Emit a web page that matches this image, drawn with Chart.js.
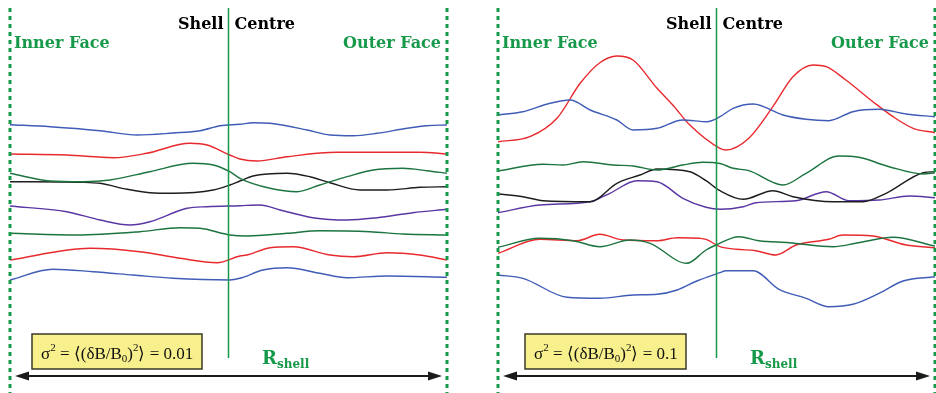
<!DOCTYPE html>
<html>
<head>
<meta charset="utf-8">
<script src="https://cdn.jsdelivr.net/npm/chart.js@4.4.1/dist/chart.umd.min.js"></script>
<style>
  body { margin: 0; background: #fff; }
  #wrap { position: relative; width: 936px; height: 393px; }
  #wrap canvas { position: absolute; top: 0; }
</style>
</head>
<body>
<div id="wrap">
  <canvas id="leftPanel" width="468" height="393" style="left:0"></canvas>
  <canvas id="rightPanel" width="468" height="393" style="left:468px"></canvas>
</div>
<script>
// Field lines across the shell, x = fraction of R_shell (0 inner face, 1 outer face),
// y = transverse position (top = 0)

// sigma^2 = 0.01
const weakBlueTop = [[0,124.7],[.092,126.7],[.206,130.7],[.291,135],[.373,133],[.435,130.7],[.481,125.7],[.526,124.3],[.556,122.7],[.595,123.3],[.68,130],[.732,135],[.785,135.7],[.84,133.3],[.908,128.3],[.954,125.7],[1,125]];
const weakRedTop = [[0,154],[.13,155],[.236,157.7],[.313,153.3],[.412,143.3],[.451,145],[.503,155],[.526,159],[.565,161],[.634,156.7],[.748,152.3],[.863,152.3],[.938,152.3],[1,154]];
const weakGreenTop = [[0,173.3],[.092,181],[.167,181.7],[.229,180],[.32,171.7],[.419,163.3],[.465,165],[.503,171.7],[.526,178.3],[.595,188.3],[.657,191.7],[.709,185],[.771,176.7],[.831,170],[.899,168.3],[.954,170.7],[1,173.3]];
const weakBlack = [[0,181.7],[.167,182.3],[.206,183.3],[.268,189.3],[.32,192.7],[.373,193.3],[.465,190],[.503,185],[.526,181],[.556,176],[.634,173.3],[.686,176.7],[.732,182.7],[.801,190],[.863,190],[.938,187.3],[1,186.7]];
const weakPurple = [[0,206],[.13,211.7],[.206,220],[.275,225],[.32,221.7],[.405,208.3],[.451,206.7],[.526,205.7],[.572,205],[.618,210],[.693,217.7],[.771,220],[.84,217.7],[.922,212.7],[1,209.3]];
const weakGreenLow = [[0,233.3],[.153,235],[.297,231.7],[.389,227.7],[.435,228.3],[.503,235],[.542,236],[.634,233.3],[.709,230.7],[.824,231.7],[.899,234],[1,235]];
const weakRedLow = [[0,260],[.183,248.3],[.297,251.7],[.389,258.3],[.474,262.7],[.526,256],[.542,255],[.595,247.7],[.648,246.7],[.732,255],[.785,256.7],[.863,252.7],[.938,255],[1,260]];
const weakBlueLow = [[0,280],[.098,269.3],[.19,271.7],[.281,275],[.373,278.3],[.503,280],[.526,278.3],[.579,270],[.634,267.7],[.709,273.3],[.771,277.7],[.863,276],[1,277.3]];

// sigma^2 = 0.1
const strongRedTop = [[0,141.7],[.073,136.7],[.135,118.3],[.188,83.3],[.233,62.7],[.272,56],[.309,60],[.364,88.3],[.40,105],[.439,125],[.508,148.3],[.522,150],[.574,138.3],[.629,106.7],[.675,76.7],[.721,65],[.751,66.7],[.796,80],[.858,101.7],[.904,116.7],[.95,128.3],[1,132.7]];
const strongBlueTop = [[0,115],[.057,111.7],[.119,103.3],[.165,100],[.211,110],[.272,120],[.309,130],[.364,128.3],[.423,120],[.478,121.7],[.508,116.7],[.538,108.3],[.584,104],[.652,115],[.705,119.3],[.757,120.7],[.812,111.7],[.872,109.3],[.934,114],[1,116.7]];
const strongGreenTop = [[0,171],[.103,164.3],[.149,165],[.195,161.7],[.263,165],[.309,166],[.364,170],[.423,165],[.469,162.3],[.508,163.5],[.538,168.3],[.574,170.7],[.652,185],[.705,173.3],[.78,156],[.826,157.3],[.895,166.7],[.973,174],[1,172.7]];
const strongBlack = [[0,194],[.057,196.7],[.103,200.7],[.211,201.7],[.272,183.3],[.325,175],[.364,169],[.439,171.7],[.476,180.7],[.508,190.7],[.561,199.3],[.629,190.7],[.675,196.7],[.767,201.7],[.835,201.7],[.888,193.3],[.973,172.7],[1,171.7]];
const strongPurple = [[0,212.7],[.096,205],[.211,201.7],[.256,193.3],[.318,180.7],[.364,181.7],[.423,198.3],[.476,207.3],[.508,209.3],[.561,206.7],[.59,202.7],[.682,200.7],[.751,191.7],[.803,200.7],[.872,200],[.941,196],[1,197.7]];
const strongGreenLow = [[0,247.3],[.096,238.3],[.172,240.7],[.233,246.7],[.302,240],[.348,243.3],[.432,263.3],[.476,250],[.499,245],[.551,236.7],[.597,240.7],[.666,242.7],[.767,246.7],[.819,243.3],[.904,237.3],[1,246]];
const strongRedLow = [[0,253.3],[.096,239.3],[.181,240.7],[.233,234.3],[.286,240],[.364,240.7],[.41,237.7],[.462,238.3],[.476,239.3],[.508,246.7],[.545,249.3],[.59,250.7],[.636,255],[.682,245],[.757,239.3],[.789,235],[.858,236],[.934,245],[1,247.7]];
const strongBlueLow = [[0,275],[.057,278.3],[.158,297.3],[.233,298.3],[.309,295],[.364,294.3],[.41,290],[.455,281],[.508,272.7],[.522,270.7],[.584,270.7],[.643,289.3],[.705,298.3],[.757,306.7],[.812,304.3],[.872,293.3],[.927,281],[1,276.7]];

const BLUE = '#3f5cb6';
const RED = '#e82a2e';
const DKGREEN = '#1c7440';
const BLACK = '#1e1e1e';
const PURPLE = '#5a36a4';
const GREEN = '#17994a';

const weakLines = [
  [weakBlueTop, BLUE], [weakRedTop, RED], [weakGreenTop, DKGREEN], [weakBlack, BLACK],
  [weakPurple, PURPLE], [weakGreenLow, DKGREEN], [weakRedLow, RED], [weakBlueLow, BLUE]
];
const strongLines = [
  [strongBlueTop, BLUE], [strongRedTop, RED], [strongGreenTop, DKGREEN], [strongBlack, BLACK],
  [strongPurple, PURPLE], [strongGreenLow, DKGREEN], [strongRedLow, RED], [strongBlueLow, BLUE]
];

// formula pieces: [text, kind]
function sigmaPieces(val) {
  return [['σ','n'],['2','sup'],[' = ⟨(δB/B','n'],['0','sub'],[')','n'],['2','sup'],['⟩ = ' + val,'n']];
}

const HEAD_FONT = '"DejaVu Serif", serif';
const MATH_FONT = '"Liberation Serif", serif';

const shellDecor = {
  id: 'shellDecor',
  afterDatasetsDraw(chart, args, opts) {
    const ctx = chart.ctx;
    const xs = chart.scales.x;
    const x0 = xs.getPixelForValue(0);
    const x1 = xs.getPixelForValue(1);
    const xc = xs.getPixelForValue(0.5);
    ctx.save();

    // faces
    ctx.strokeStyle = GREEN;
    ctx.lineWidth = 3;
    ctx.setLineDash([4, 4]);
    [x0, x1].forEach(x => {
      ctx.beginPath();
      ctx.moveTo(x, 8);
      ctx.lineTo(x, 393);
      ctx.stroke();
    });
    ctx.setLineDash([]);

    // shell centre
    ctx.lineWidth = 1.5;
    ctx.beginPath();
    ctx.moveTo(xc, 8);
    ctx.lineTo(xc, 358);
    ctx.stroke();

    ctx.font = 'bold 16px ' + HEAD_FONT;
    ctx.fillStyle = '#000';
    ctx.textBaseline = 'alphabetic';
    ctx.textAlign = 'right';
    ctx.fillText('Shell', xc - 5, 29);
    ctx.textAlign = 'left';
    ctx.fillText('Centre', xc + 6, 29);

    ctx.fillStyle = GREEN;
    ctx.textAlign = 'left';
    ctx.fillText('Inner Face', x0 + 4, 48);
    ctx.textAlign = 'right';
    ctx.fillText('Outer Face', x1 - 6, 48);

    // R_shell label
    ctx.textAlign = 'left';
    ctx.font = 'bold 18px ' + HEAD_FONT;
    ctx.fillText('R', x0 + 252, 364);
    const rw = ctx.measureText('R').width;
    ctx.font = 'bold 12px ' + HEAD_FONT;
    ctx.fillText('shell', x0 + 252 + rw, 368);

    // arrow
    const ay = 376;
    const ax0 = x0 + 5, ax1 = x1 - 5;
    ctx.strokeStyle = '#1a1a1a';
    ctx.fillStyle = '#1a1a1a';
    ctx.lineWidth = 2;
    ctx.beginPath();
    ctx.moveTo(ax0 + 8, ay);
    ctx.lineTo(ax1 - 8, ay);
    ctx.stroke();
    ctx.beginPath();
    ctx.moveTo(ax0, ay); ctx.lineTo(ax0 + 14, ay - 4.5); ctx.lineTo(ax0 + 14, ay + 4.5); ctx.closePath();
    ctx.fill();
    ctx.beginPath();
    ctx.moveTo(ax1, ay); ctx.lineTo(ax1 - 14, ay - 4.5); ctx.lineTo(ax1 - 14, ay + 4.5); ctx.closePath();
    ctx.fill();

    // sigma box
    const bx = x0 + opts.boxLeft, by = 334, bw = opts.boxWidth, bh = 35;
    ctx.fillStyle = '#f7f08c';
    ctx.fillRect(bx, by, bw, bh);
    ctx.strokeStyle = '#3a3a2a';
    ctx.lineWidth = 1.5;
    ctx.strokeRect(bx, by, bw, bh);

    ctx.fillStyle = '#111';
    let tx = bx + 9;
    const base = by + 25;
    sigmaPieces(opts.sigma).forEach(([t, kind]) => {
      let dy = 0;
      if (kind === 'n') ctx.font = '17px ' + MATH_FONT;
      else ctx.font = '11px ' + MATH_FONT;
      if (kind === 'sup') dy = -8;
      if (kind === 'sub') dy = 3;
      ctx.fillText(t, tx, base + dy);
      tx += ctx.measureText(t).width;
    });

    ctx.restore();
  }
};

function makePanel(id, lines, decor, padLeft, padRight) {
  const datasets = lines.map(([pts, color]) => ({
    data: pts.map(([x, y]) => ({ x, y })),
    borderColor: color,
    borderWidth: 1.4,
    pointRadius: 0,
    fill: false,
    cubicInterpolationMode: 'monotone'
  }));
  return new Chart(document.getElementById(id), {
    type: 'line',
    data: { datasets },
    options: {
      responsive: false,
      animation: false,
      layout: { padding: { left: padLeft, right: padRight, top: 0, bottom: 0 } },
      scales: {
        x: { type: 'linear', min: 0, max: 1, display: false },
        y: { min: 0, max: 393, reverse: true, display: false }
      },
      plugins: {
        legend: { display: false },
        tooltip: { enabled: false },
        shellDecor: decor
      }
    },
    plugins: [shellDecor]
  });
}

makePanel('leftPanel', weakLines, { sigma: '0.01', boxLeft: 22, boxWidth: 170 }, 10, 21);
makePanel('rightPanel', strongLines, { sigma: '0.1', boxLeft: 27, boxWidth: 161 }, 30, 1);
</script>
</body>
</html>
